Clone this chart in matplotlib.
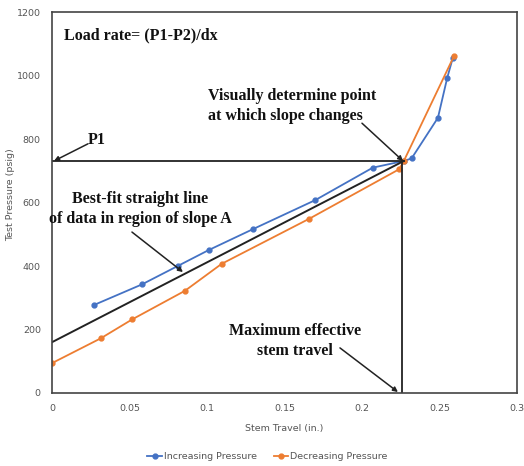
import numpy as np
import matplotlib.pyplot as plt

# data
inc_x = [0.027, 0.058, 0.0815, 0.101, 0.130, 0.170, 0.207, 0.227, 0.232, 0.249, 0.255, 0.2585]
inc_y = [277, 342, 401, 450, 517, 608, 710, 731, 739, 867, 993, 1054]
dec_x = [0.0, 0.0314, 0.0518, 0.0858, 0.1095, 0.166, 0.224, 0.227, 0.2594]
dec_y = [94, 172, 232, 322, 407, 549, 705, 731, 1062]

fit_x = [0.0, 0.227]
fit_y = [160, 731]
p1 = 731
x_max = 0.2255

xticks = [0, 0.05, 0.1, 0.15, 0.2, 0.25, 0.3]
xticklabels = ["0", "0.05", "0.1", "0.15", "0.2", "0.25", "0.3"]
yticks = [0, 200, 400, 600, 800, 1000, 1200]

blue = "#4472C4"
orange = "#ED7D31"
serif = "Liberation Serif"

fig = plt.figure(figsize=(5.24, 4.66), dpi=100)
ax = fig.add_axes([0.0992, 0.1567, 0.8874, 0.8173])

ax.plot(inc_x, inc_y, color=blue, marker="o", markersize=3.5, lw=1.3, label="Increasing Pressure")
ax.plot(dec_x, dec_y, color=orange, marker="o", markersize=3.5, lw=1.3, label="Decreasing Pressure")

ax.plot(fit_x, fit_y, color="#222222", lw=1.4)
ax.plot([0, fit_x[1]], [p1, p1], color="#222222", lw=1.3)
ax.plot([x_max, x_max], [0, p1], color="#222222", lw=1.3)

ax.set_xlim(0, 0.3)
ax.set_ylim(0, 1200)
ax.set_xticks(xticks)
ax.set_xticklabels(xticklabels)
ax.set_yticks(yticks)
ax.tick_params(length=0, labelsize=6.8, colors="#555555", pad=8)
for s in ax.spines.values():
    s.set_color("#444444")
    s.set_linewidth(1.2)

ax.set_xlabel("Stem Travel (in.)", fontsize=6.8, color="#555555", labelpad=8)
ax.set_ylabel("Test Pressure (psig)", fontsize=6.8, color="#555555")
ax.yaxis.set_label_coords(-0.08, 0.52)

tkw = dict(family=serif, fontweight="bold", fontsize=11.5, color="#111111", linespacing=1.3)
ax.text(0.0075, 1128, "Load rate= (P1-P2)/dx", ha="left", va="center", **tkw)
ax.text(0.0232, 797, "P1", ha="left", va="center", **tkw)
ax.text(0.1006, 904, "Visually determine point\nat which slope changes", ha="left", va="center", **tkw)
ax.text(0.057, 580, "Best-fit straight line\nof data in region of slope A", ha="center", va="center", **tkw)
ax.text(0.157, 164, "Maximum effective\nstem travel", ha="center", va="center", **tkw)

akw = dict(arrowstyle="-|>", color="#222222", lw=1.1, mutation_scale=7, shrinkA=0, shrinkB=0)
ax.annotate("", xy=(0.0013, p1), xytext=(0.0232, 785), arrowprops=akw)
ax.annotate("", xy=(0.2265, p1), xytext=(0.2, 850), arrowprops=akw)
ax.annotate("", xy=(0.0845, 381), xytext=(0.0516, 507), arrowprops=akw)
ax.annotate("", xy=(0.2232, 3), xytext=(0.1858, 142), arrowprops=akw)

fig.legend(loc="center", bbox_to_anchor=(0.51, 0.02), ncol=2, frameon=False,
           fontsize=6.8, labelcolor="#555555", handlelength=1.5, handletextpad=0.2,
           columnspacing=1.8)

fig.savefig("out.png", dpi=100)
